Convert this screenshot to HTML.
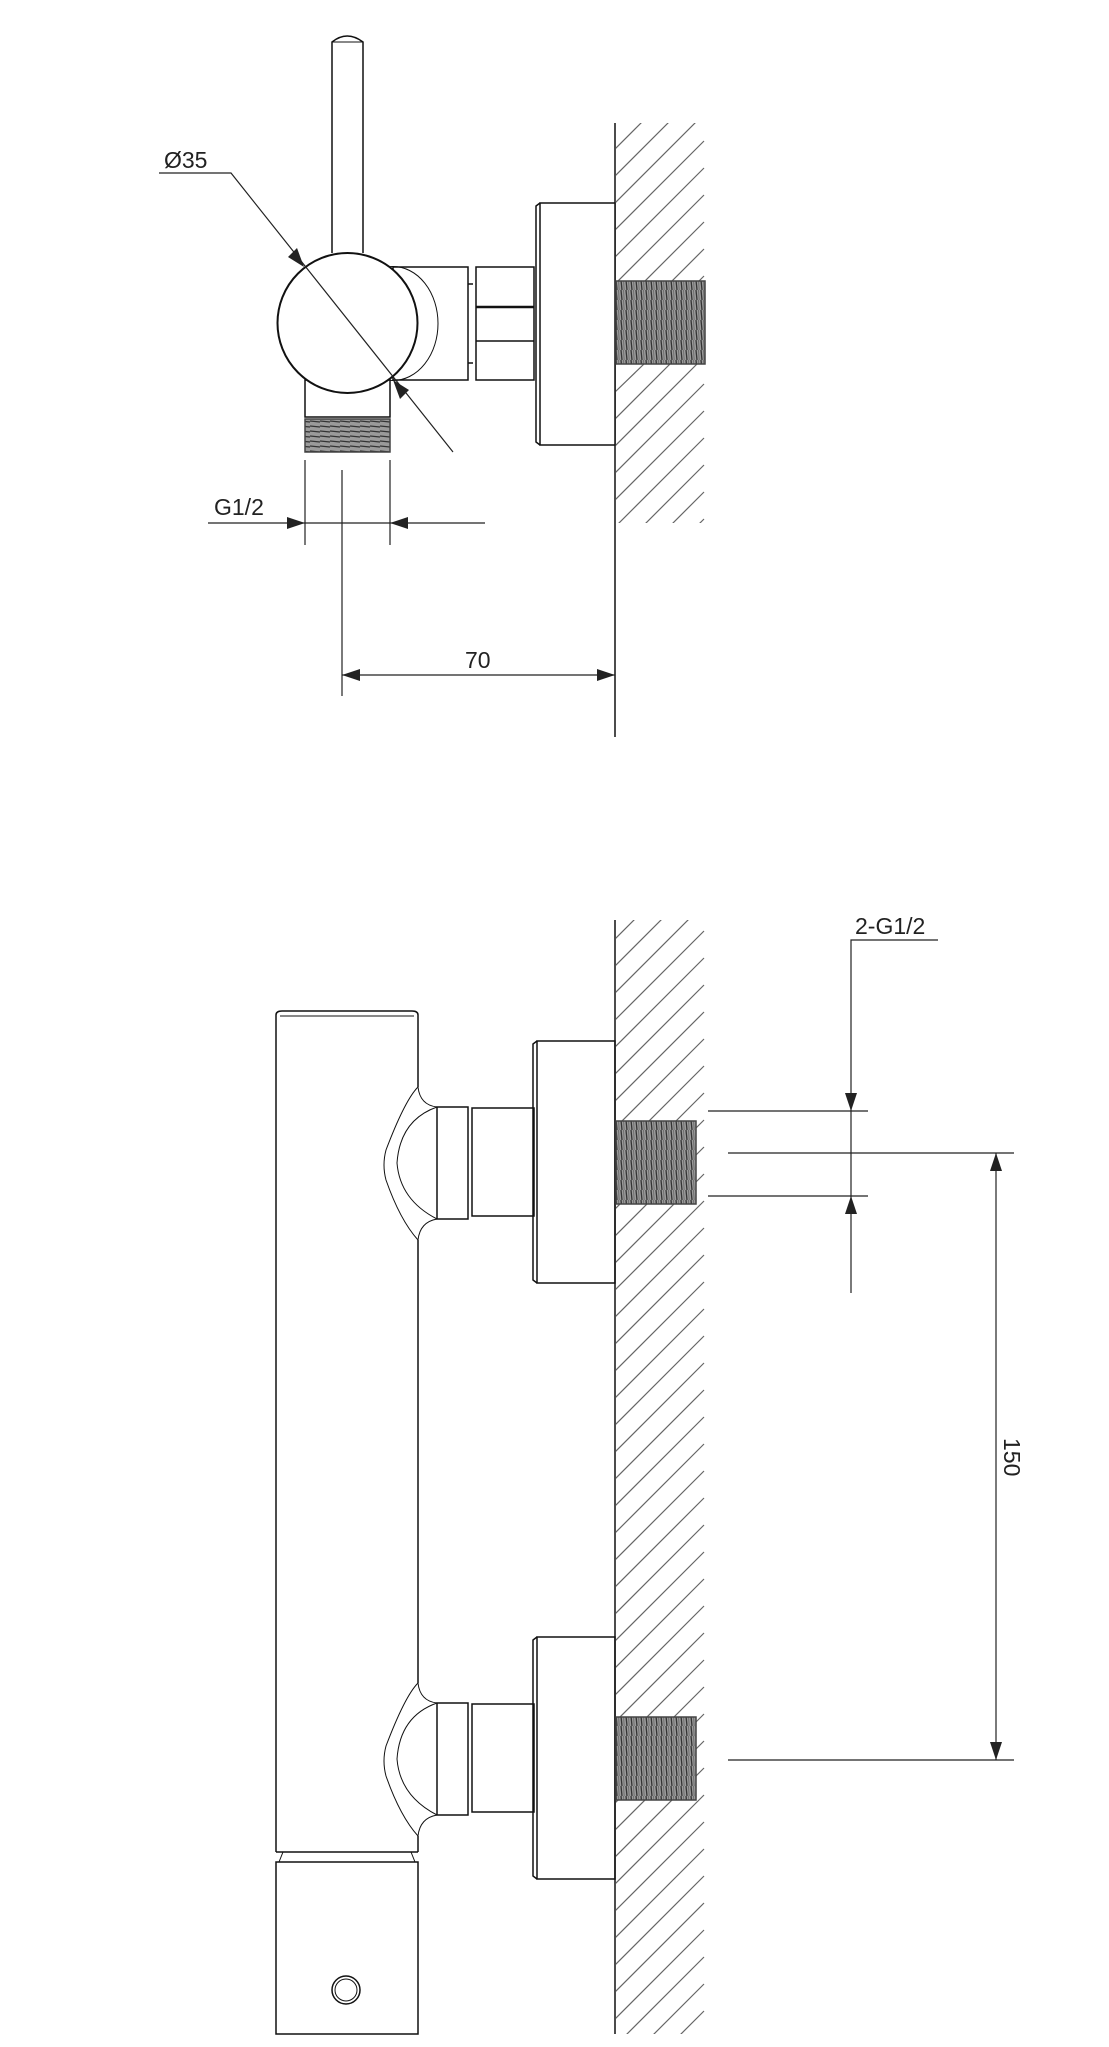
<!DOCTYPE html>
<html><head><meta charset="utf-8"><style>
html,body{margin:0;padding:0;background:#fff}
svg{display:block}
text{font-family:"Liberation Sans",sans-serif;fill:#222}
</style></head><body>
<svg width="1109" height="2047" viewBox="0 0 1109 2047" xmlns="http://www.w3.org/2000/svg">
<defs>
<pattern id="thr" width="5" height="10" patternUnits="userSpaceOnUse">
<rect width="5" height="10" fill="#9a9a9a"/>
<line x1="1" y1="0" x2="2" y2="10" stroke="#333" stroke-width="1.3"/>
<line x1="3.5" y1="0" x2="4.2" y2="10" stroke="#666" stroke-width="0.8"/>
</pattern>
<pattern id="thrh" width="10" height="5" patternUnits="userSpaceOnUse">
<rect width="10" height="5" fill="#9a9a9a"/>
<line x1="0" y1="1" x2="10" y2="2" stroke="#333" stroke-width="1.3"/>
</pattern>
<clipPath id="h1"><rect x="616" y="123" width="92" height="400"/></clipPath>
<clipPath id="h2"><rect x="616" y="920" width="92" height="1114"/></clipPath>
</defs>
<g transform="translate(2,0)">
<g stroke="#666" stroke-width="1.2" fill="none">
<g clip-path="url(#h1)" transform="translate(-2,0)">
<path d="M614 150 L704 60 M614 177 L704 87 M614 204 L704 114 M614 231 L704 141 M614 258 L704 168 M614 285 L704 195 M614 312 L704 222 M614 339 L704 249 M614 366 L704 276 M614 393 L704 306 M614 420 L704 330 M614 447 L704 357 M614 474 L704 384 M614 501 L704 411 M614 528 L704 438 M614 555 L704 465 M614 582 L704 492 M614 609 L704 519"/>
</g>
<g clip-path="url(#h2)" transform="translate(-2,0)">
<path d="M614 940 L704 850 M614 967 L704 877 M614 994 L704 904 M614 1021 L704 931 M614 1048 L704 958 M614 1075 L704 985 M614 1102 L704 1012 M614 1129 L704 1039 M614 1156 L704 1066 M614 1183 L704 1093 M614 1210 L704 1120 M614 1237 L704 1147 M614 1264 L704 1174 M614 1291 L704 1201 M614 1318 L704 1228 M614 1345 L704 1255 M614 1372 L704 1282 M614 1399 L704 1309 M614 1426 L704 1336 M614 1453 L704 1363 M614 1480 L704 1390 M614 1507 L704 1417 M614 1534 L704 1444 M614 1561 L704 1471 M614 1588 L704 1498 M614 1615 L704 1525 M614 1642 L704 1552 M614 1669 L704 1579 M614 1696 L704 1606 M614 1723 L704 1633 M614 1750 L704 1660 M614 1777 L704 1687 M614 1804 L704 1714 M614 1831 L704 1741 M614 1858 L704 1768 M614 1885 L704 1795 M614 1912 L704 1822 M614 1939 L704 1849 M614 1966 L704 1876 M614 1993 L704 1903 M614 2020 L704 1930 M614 2047 L704 1957 M614 2074 L704 1984 M614 2101 L704 2011 M614 2128 L704 2038"/>
</g>
</g>
<g stroke="#111" stroke-width="1.5" fill="none">
<line x1="613" y1="123" x2="613" y2="737"/>
<line x1="613" y1="920" x2="613" y2="2034"/>
</g>
</g>
<g stroke="#111" stroke-width="1.5" fill="none">
<!-- TOP VIEW -->
<path d="M332 253 L332 42 Q347 30 363 42 L363 253"/>
<path d="M332 42 L363 42" stroke-width="1"/>
<rect x="393" y="267" width="75" height="113" fill="#fff"/>
<ellipse cx="393" cy="323.5" rx="45" ry="57" stroke-width="1"/>
<rect x="305" y="380" width="85" height="37" fill="#fff"/>
<circle cx="347.5" cy="323" r="70" fill="#fff" stroke-width="2"/>
<rect x="476" y="267" width="58" height="113" fill="#fff"/>
<line x1="476" y1="307" x2="534" y2="307" stroke-width="2.5"/>
<line x1="476" y1="341" x2="534" y2="341"/>
<line x1="468" y1="284" x2="473" y2="284"/><line x1="468" y1="363" x2="473" y2="363"/>
<path d="M540 203 L536 206 L536 442 L540 445"/>
<rect x="540" y="203" width="75" height="242" fill="#fff"/>
<rect x="616" y="281" width="89" height="83" fill="url(#thr)" stroke="#444"/>
<rect x="305" y="419" width="85" height="33" fill="url(#thrh)" stroke="#444"/>
<!-- BOTTOM VIEW tube -->
<path d="M276 1852 L276 1015 Q276 1011 282 1011 L412 1011 Q418 1011 418 1015 L418 1087"/>
<line x1="280" y1="1016" x2="414" y2="1016" stroke-width="1"/>
<line x1="418" y1="1240" x2="418" y2="1683"/>
<line x1="418" y1="1836" x2="418" y2="1852"/>
<line x1="276" y1="1852" x2="418" y2="1852"/>
<path d="M283 1852 L279 1862 M411 1852 L415 1862" stroke-width="1"/>
<rect x="276" y="1862" width="142" height="172"/>
<circle cx="346" cy="1990" r="14"/>
<circle cx="346" cy="1990" r="11" stroke-width="1"/>
</g>
<g id="conn" stroke="#111" stroke-width="1.5" fill="none">
<path d="M418 1087 Q405 1100 386 1150 Q382 1165 386 1180 Q400 1220 418 1240" stroke-width="1"/>
<path d="M437 1107 Q400 1120 397 1163 Q400 1200 437 1219" stroke-width="1"/>
<path d="M418 1087 Q420 1105 437 1107 M418 1240 Q420 1222 437 1219" stroke-width="1"/>
<rect x="437" y="1107" width="31" height="112"/>
<rect x="472" y="1108" width="62" height="108"/>
<path d="M537 1041 L533 1044 L533 1280 L537 1283"/>
<rect x="537" y="1041" width="78" height="242"/>
<rect x="616" y="1121" width="80" height="83" fill="url(#thr)" stroke="#444"/>
</g>
<use href="#conn" transform="translate(0,596)"/>
<!-- dimensions -->
<g stroke="#222" stroke-width="1.2" fill="none">
<polyline points="159,173 231,173 453,452"/>
<line x1="208" y1="523" x2="485" y2="523"/>
<line x1="305" y1="460" x2="305" y2="545"/>
<line x1="390" y1="460" x2="390" y2="545"/>
<line x1="342" y1="470" x2="342" y2="696"/>
<line x1="342" y1="675" x2="615" y2="675"/>
<polyline points="938,940 851,940 851,1293"/>
<line x1="708" y1="1111" x2="868" y2="1111"/>
<line x1="708" y1="1196" x2="868" y2="1196"/>
<line x1="728" y1="1153" x2="1014" y2="1153"/>
<line x1="728" y1="1760" x2="1014" y2="1760"/>
<line x1="996" y1="1153" x2="996" y2="1760"/>
</g>
<g fill="#222">
<polygon points="304,267 288,257 297,248"/>
<polygon points="393,380 409,390 400,399"/>
<polygon points="305,523 287,517 287,529"/>
<polygon points="390,523 408,517 408,529"/>
<polygon points="342,675 360,669 360,681"/>
<polygon points="615,675 597,669 597,681"/>
<polygon points="851,1111 845,1093 857,1093"/>
<polygon points="851,1196 845,1214 857,1214"/>
<polygon points="996,1153 990,1171 1002,1171"/>
<polygon points="996,1760 990,1742 1002,1742"/>
</g>
<text x="164" y="168" font-size="23">Ø35</text>
<text x="214" y="515" font-size="23">G1/2</text>
<text x="465" y="668" font-size="23">70</text>
<text x="855" y="934" font-size="23">2-G1/2</text>
<text x="0" y="0" font-size="23" transform="translate(1004,1438) rotate(90)">150</text>
</svg>
</body></html>
